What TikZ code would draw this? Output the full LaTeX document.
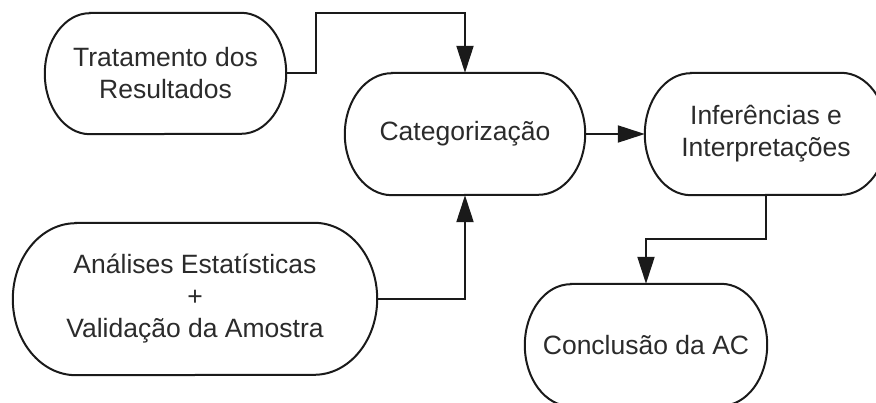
\documentclass[tikz,border=0pt]{standalone}
\usepackage{fontspec}
\setmainfont{Liberation Sans}
\usetikzlibrary{arrows.meta}
\definecolor{inkline}{HTML}{1A1A1A}
\definecolor{inktext}{HTML}{2B2B2B}
\tikzset{
  termbox/.style={draw=none, rectangle, inner sep=0pt, align=center,
    text=inktext, font=\fontsize{26.5}{32}\selectfont},
  boxline/.style={draw=inkline, line width=2pt},
  conn/.style={draw=inkline, line width=2pt, line join=miter,
    -{Triangle[length=27pt,width=17pt]}},
}
% #1 node name, #2 x radius, #3 y radius (half height)
\newcommand\drawterm[3]{%
  \draw[boxline] ([xshift=#2]#1.north west) -- ([xshift=-#2]#1.north east)
    arc[start angle=90,end angle=-90,x radius=#2,y radius=#3]
    -- ([xshift=#2]#1.south west)
    arc[start angle=270,end angle=90,x radius=#2,y radius=#3] -- cycle;}
\begin{document}
\begin{tikzpicture}[x=1pt,y=-1pt]
\clip (0,0) rectangle (876,403);
\fill[white] (0,0) rectangle (876,403);
\node[termbox, minimum width=241pt, minimum height=121pt] (trat) at (165.5,73.5) {Tratamento dos\\Resultados};
\node[termbox, minimum width=240pt, minimum height=122pt] (cat) at (465,134) {Categorização};
\node[termbox, minimum width=242pt, minimum height=122pt] (inf) at (766,134) {Inferências e\\Interpretações};
\node[termbox, minimum width=364pt, minimum height=152pt] (ana) at (195,299) {Análises Estatísticas\\+\\Validação da Amostra};
\node[termbox, minimum width=242pt, minimum height=122pt] (conc) at (646,345) {Conclusão da AC};
\drawterm{trat}{45pt}{60.5pt}
\drawterm{cat}{47pt}{61pt}
\drawterm{inf}{46pt}{61pt}
\drawterm{ana}{63pt}{76pt}
\drawterm{conc}{46pt}{61pt}
\coordinate (c1) at (316,13);
\coordinate (c2) at (646,239);
\draw[conn] (trat.east) -| (c1) -| (cat.north);
\draw[conn] (ana.east) -| (cat.south);
\draw[conn] (cat.east) -- (inf.west);
\draw[conn] (inf.south) |- (c2) -- (conc.north);
\end{tikzpicture}
\end{document}
